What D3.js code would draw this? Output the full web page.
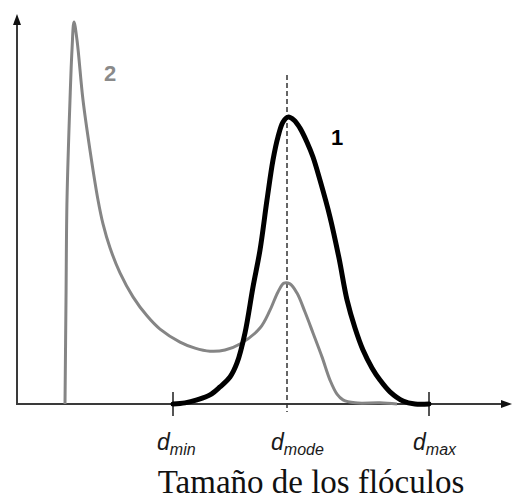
<!DOCTYPE html>
<html>
<head>
<meta charset="utf-8">
<script src="https://cdn.jsdelivr.net/npm/d3@7"></script>
<style>
  html, body { margin: 0; padding: 0; background: #fff; }
  svg { display: block; }
</style>
</head>
<body>
<svg id="chart" width="512" height="499"></svg>
<script>
// Floc size distributions: curve 1 (narrow, unimodal) and curve 2 (broad, with a fines peak)
const curve1Size = [31.4, 33.8, 36.2, 38.8, 40.8, 42.8, 44.2, 45.8, 47.4, 48.8, 50.2, 51.4, 52.4, 53.4, 54.4, 55.6, 56.8, 58.2, 59.4, 60.8, 62.8, 64.6, 66.2, 67.8, 69.4, 71.2, 72.8, 74.8, 77.4, 79.8, 82.6];
const curve1Freq = [0, 0.3, 1.1, 2.4, 4.5, 7.1, 10.8, 18.7, 30.8, 40.5, 53.7, 64.2, 70.3, 74.2, 75.5, 74.7, 72.6, 68.9, 65.0, 58.9, 49.2, 38.4, 27.4, 20.0, 14.2, 9.5, 6.3, 3.2, 0.8, 0, 0];

const curve2Size = [9.8, 10.0, 10.2, 10.8, 11.2, 11.6, 12.2, 13.4, 14.8, 16.4, 17.4, 18.8, 20.8, 23.4, 26.2, 28.8, 32.8, 35.8, 38.8, 41.8, 44.8, 48.8, 50.8, 52.4, 53.6, 54.8, 56.2, 57.8, 59.4, 61.2, 62.8, 64.2, 65.4, 67.8, 72.8, 76.2];
const curve2Freq = [0, 27.4, 53.7, 80.0, 93.2, 100.5, 95.8, 80.0, 66.8, 53.7, 47.4, 41.1, 34.5, 28.2, 23.2, 19.7, 16.3, 14.7, 13.9, 14.2, 15.8, 20.0, 24.7, 29.5, 31.8, 31.6, 29.2, 24.2, 18.7, 12.4, 6.3, 2.6, 1.1, 0.3, 0.3, 0];

// Characteristic sizes marked on the horizontal axis
const tickValues = [31.4, 54.2, 82.6];
const tickBase = ["d", "d", "d"];
const tickSub = ["min", "mode", "max"];
const modeValue = 54.2;

const curveLabels = ["1", "2"];
const axisTitle = "Tamaño de los flóculos";

const svg = d3.select("#chart");

const x = d3.scaleLinear().domain([0, 100]).range([16, 516]);
const y = d3.scaleLinear().domain([0, 100]).range([404, 24]);

const axisColor = "#3a3a3a";
const y0 = y(0);
const x0 = 17;

// Axes with arrowheads
svg.append("line")
  .attr("x1", x0).attr("y1", y0 + 1)
  .attr("x2", x0).attr("y2", 22)
  .attr("stroke", axisColor).attr("stroke-width", 2);
svg.append("path")
  .attr("d", `M${x0},14 L${x0 - 4},25 L${x0 + 4},25 Z`)
  .attr("fill", "#111");

svg.append("line")
  .attr("x1", x0 - 1).attr("y1", y0)
  .attr("x2", 504).attr("y2", y0)
  .attr("stroke", axisColor).attr("stroke-width", 2);
svg.append("path")
  .attr("d", `M512,${y0} L501,${y0 - 4} L501,${y0 + 4} Z`)
  .attr("fill", "#111");

// Tick marks at d_min and d_max
svg.selectAll("line.tick")
  .data(tickValues.filter(v => v !== modeValue))
  .join("line")
  .attr("class", "tick")
  .attr("x1", d => x(d)).attr("x2", d => x(d))
  .attr("y1", y0 - 12).attr("y2", y0 + 12)
  .attr("stroke", "#555").attr("stroke-width", 2);

// Dashed line through the modal size
svg.append("line")
  .attr("x1", x(modeValue)).attr("x2", x(modeValue))
  .attr("y1", 75).attr("y2", y0 + 8)
  .attr("stroke", "#333").attr("stroke-width", 1.5)
  .attr("stroke-dasharray", "5,3");

const line = d3.line()
  .x(d => x(d[0]))
  .y(d => y(d[1]))
  .curve(d3.curveCatmullRom.alpha(0.5));

// Curve 2 (grey)
svg.append("path")
  .datum(d3.zip(curve2Size, curve2Freq))
  .attr("d", line)
  .attr("fill", "none")
  .attr("stroke", "#858585")
  .attr("stroke-width", 3)
  .attr("stroke-linejoin", "round");

// Curve 1 (black)
svg.append("path")
  .datum(d3.zip(curve1Size, curve1Freq))
  .attr("d", line)
  .attr("fill", "none")
  .attr("stroke", "#000")
  .attr("stroke-width", 5)
  .attr("stroke-linejoin", "round")
  .attr("stroke-linecap", "round");

// Curve labels
svg.append("text")
  .attr("x", 337).attr("y", 145)
  .attr("text-anchor", "middle")
  .attr("font-family", "Liberation Sans, Arial, sans-serif")
  .attr("font-size", 22).attr("font-weight", "bold")
  .attr("fill", "#000")
  .text(curveLabels[0]);

svg.append("text")
  .attr("x", 110).attr("y", 81)
  .attr("text-anchor", "middle")
  .attr("font-family", "Liberation Sans, Arial, sans-serif")
  .attr("font-size", 22).attr("font-weight", "bold")
  .attr("fill", "#8a8a8a")
  .text(curveLabels[1]);

// Tick labels: italic d with subscript
const tl = svg.selectAll("text.ticklabel")
  .data(tickValues)
  .join("text")
  .attr("class", "ticklabel")
  .attr("x", d => x(d) - 16)
  .attr("y", 450)
  .attr("font-family", "Liberation Sans, Arial, sans-serif")
  .attr("font-style", "italic")
  .attr("fill", "#1a1a1a");
tl.append("tspan")
  .attr("font-size", 23)
  .text((d, i) => tickBase[i]);
tl.append("tspan")
  .attr("font-size", 16)
  .attr("dy", 5)
  .text((d, i) => tickSub[i]);

// Axis title
svg.append("text")
  .attr("x", 311).attr("y", 493)
  .attr("text-anchor", "middle")
  .attr("font-family", "Liberation Serif, Times New Roman, serif")
  .attr("font-size", 33)
  .attr("fill", "#111")
  .text(axisTitle);
</script>
</body>
</html>
